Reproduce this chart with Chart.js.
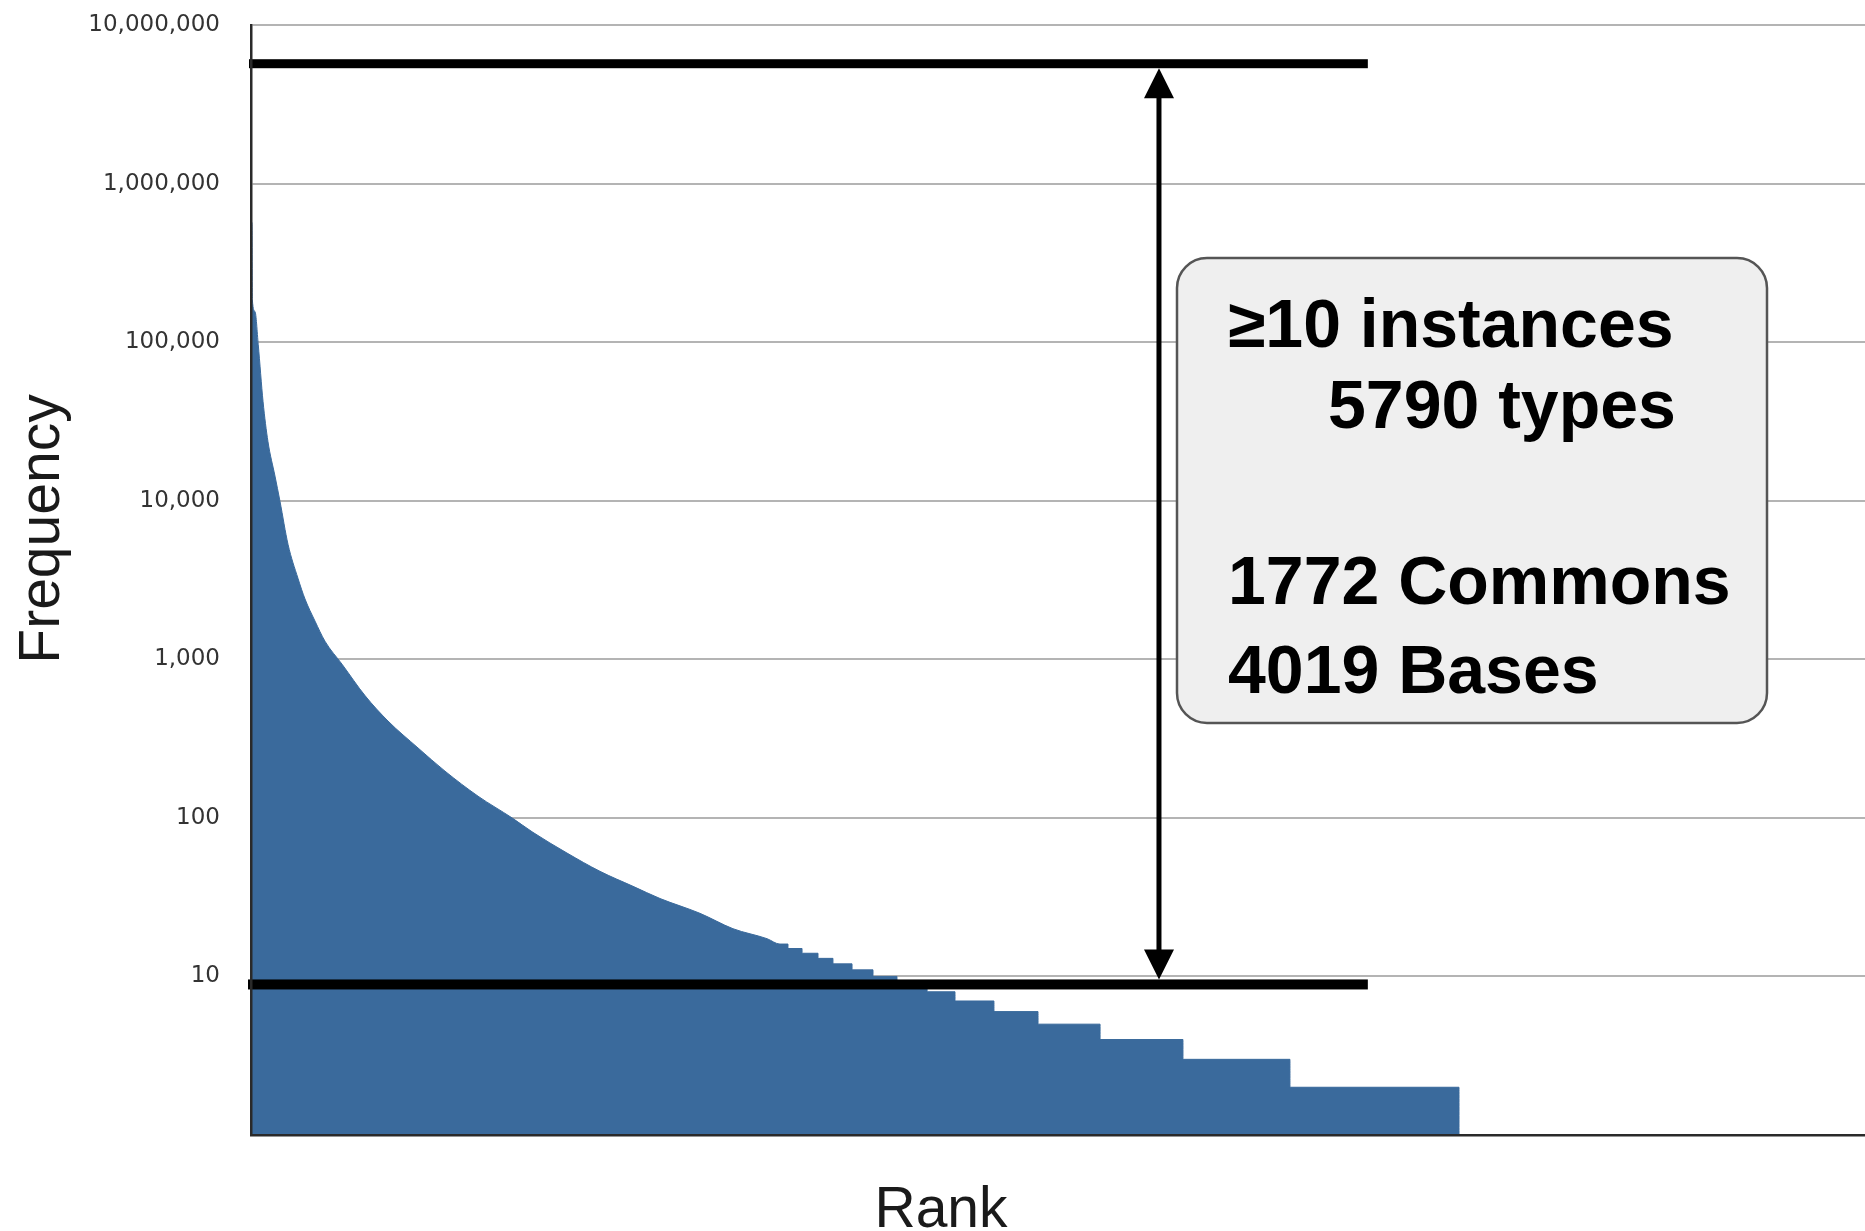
<!DOCTYPE html>
<html>
<head>
<meta charset="utf-8">
<script src="https://cdn.jsdelivr.net/npm/chart.js@4.4.1/dist/chart.umd.min.js"></script>
<style>
  html, body { margin: 0; padding: 0; background: #fff; }
</style>
</head>
<body>
<canvas id="chartRank" width="1865" height="1231"></canvas>
<script>
// curva continua (rango -> frecuencia)
const headRanks = [0, 9, 12, 36, 65, 108, 152, 215, 260, 332, 421, 484, 574, 663, 816, 1022, 1228, 1497, 1739, 2035, 2339, 2527, 2832, 3128, 3424, 3666, 4024, 4320, 4625];
const headFreqs = [575000, 560000, 185000, 156000, 96400, 42200, 23600, 14300, 9900, 5300, 3240, 2400, 1740, 1300, 931, 590, 408, 276, 197, 137, 100, 81, 60, 46, 37, 31, 25, 20, 17.3];

// escalones de frecuencia entera (inicio de cada escalon)
const tailRanks = [4741, 4813, 4939, 5082, 5216, 5387, 5575, 5790, 6060, 6310, 6659, 7054, 7610, 8353, 9312, 10827];
const tailFreqs = [16, 15, 14, 13, 12, 11, 10, 9, 8, 7, 6, 5, 4, 3, 2, 1];

const yTicks = [10, 100, 1000, 10000, 100000, 1000000, 10000000];
const boxLines = ["≥10 instances", "5790 types", "1772 Commons", "4019 Bases"];

// marcas de corte
const cutTop = 5700000;
const cutBottom = 8.9;
const cutEndRank = 10010;
const arrowRank = 8138;
const rankMax = 14466;

const AZUL = "#3a6a9c";

// une la curva y los escalones en una sola serie
function armarPuntos() {
  const out = [];
  for (let i = 0; i < headRanks.length; i++) out.push({ x: headRanks[i], y: headFreqs[i] });
  for (let i = 0; i < tailRanks.length - 1; i++) {
    out.push({ x: tailRanks[i], y: tailFreqs[i] });
    out.push({ x: tailRanks[i + 1], y: tailFreqs[i] });
  }
  out.push({ x: tailRanks[tailRanks.length - 1], y: tailFreqs[tailFreqs.length - 1] });
  return out;
}

const anotaciones = {
  id: "anotaciones",
  afterDatasetsDraw(chart) {
    const ctx = chart.ctx;
    const xs = chart.scales.x;
    const ys = chart.scales.y;
    const left = chart.chartArea.left;

    const yTop = ys.getPixelForValue(cutTop);
    const yBot = ys.getPixelForValue(cutBottom);
    const xEnd = xs.getPixelForValue(cutEndRank);
    const xArr = xs.getPixelForValue(arrowRank);

    ctx.save();
    ctx.fillStyle = "#000";
    // lineas gruesas
    ctx.fillRect(left - 2, yTop - 4.5, xEnd - left + 2, 9);
    ctx.fillRect(left - 3, yBot - 5, xEnd - left + 3, 10);

    // flecha doble
    const a0 = yTop + 4.5, a1 = yBot - 5;
    ctx.fillRect(xArr - 2.5, a0 + 20, 5, a1 - a0 - 40);
    ctx.beginPath();
    ctx.moveTo(xArr, a0);
    ctx.lineTo(xArr - 15, a0 + 30);
    ctx.lineTo(xArr + 15, a0 + 30);
    ctx.closePath();
    ctx.fill();
    ctx.beginPath();
    ctx.moveTo(xArr, a1);
    ctx.lineTo(xArr - 15, a1 - 30);
    ctx.lineTo(xArr + 15, a1 - 30);
    ctx.closePath();
    ctx.fill();

    // caja
    const bx = 1177, by = 258, bw = 590, bh = 465, r = 30;
    ctx.beginPath();
    ctx.moveTo(bx + r, by);
    ctx.arcTo(bx + bw, by, bx + bw, by + bh, r);
    ctx.arcTo(bx + bw, by + bh, bx, by + bh, r);
    ctx.arcTo(bx, by + bh, bx, by, r);
    ctx.arcTo(bx, by, bx + bw, by, r);
    ctx.closePath();
    ctx.fillStyle = "#efefef";
    ctx.fill();
    ctx.lineWidth = 2.5;
    ctx.strokeStyle = "#555";
    ctx.stroke();

    ctx.fillStyle = "#000";
    ctx.font = "bold 68px 'Liberation Sans', Arial, sans-serif";
    ctx.textBaseline = "alphabetic";
    ctx.textAlign = "left";
    ctx.fillText(boxLines[0], bx + 51, by + 89);
    ctx.fillText(boxLines[1], bx + 151, by + 170);
    ctx.fillText(boxLines[2], bx + 51, by + 346);
    ctx.fillText(boxLines[3], bx + 51, by + 435);
    ctx.restore();
  },
  afterDraw(chart) {
    const ctx = chart.ctx;
    ctx.save();
    ctx.fillStyle = "#1a1a1a";
    ctx.font = "57px 'Liberation Sans', Arial, sans-serif";
    ctx.textAlign = "center";
    ctx.textBaseline = "alphabetic";
    ctx.fillText("Rank", 941, 1227);
    ctx.translate(59, 529);
    ctx.rotate(-Math.PI / 2);
    ctx.fillText("Frequency", 0, 0);
    ctx.restore();
  }
};

function pintarChart() {
  const ctx = document.getElementById("chartRank").getContext("2d");

  new Chart(ctx, {
    type: "line",
    data: {
      datasets: [{
        data: armarPuntos(),
        borderColor: AZUL,
        backgroundColor: AZUL,
        borderWidth: 1,
        pointRadius: 0,
        cubicInterpolationMode: "monotone",
        fill: "start"
      }]
    },
    options: {
      responsive: false,
      animation: false,
      devicePixelRatio: 1,
      layout: { padding: { top: 25, right: 0, bottom: 96, left: 0 } },
      plugins: {
        legend: { display: false },
        tooltip: { enabled: false }
      },
      scales: {
        x: {
          type: "linear",
          min: 0,
          max: rankMax,
          ticks: { display: false },
          grid: { display: false, drawTicks: false },
          border: { display: true, color: "#2a2a2a", width: 2.5, z: 1 },
          afterFit: function (s) { s.height = 0; }
        },
        y: {
          type: "logarithmic",
          min: 1,
          max: 10000000,
          afterBuildTicks: function (s) {
            s.ticks = yTicks.map(function (v) { return { value: v }; });
          },
          afterFit: function (s) {
            s.width = 251;
            s.paddingTop = 0;
            s.paddingBottom = 0;
          },
          ticks: {
            color: "#333",
            padding: 31,
            autoSkip: false,
            font: { family: "DejaVu Sans", size: 23 },
            callback: function (v) { return Number(v).toLocaleString("en-US"); }
          },
          grid: { color: "#b4b4b4", lineWidth: 2, drawTicks: false },
          border: { display: true, color: "#2a2a2a", width: 2.5, z: 1 }
        }
      }
    },
    plugins: [anotaciones]
  });
}

pintarChart();
</script>
</body>
</html>
